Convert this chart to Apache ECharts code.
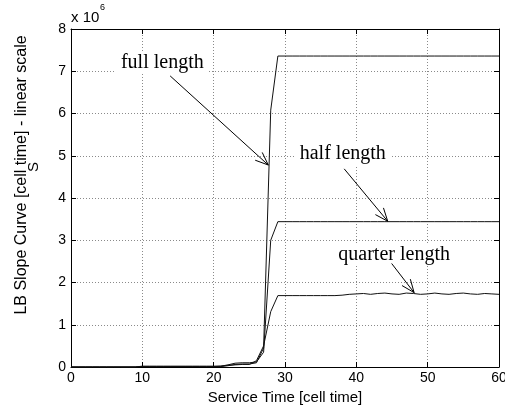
<!DOCTYPE html>
<html>
<head>
<meta charset="utf-8">
<script src="https://cdn.jsdelivr.net/npm/echarts@6/dist/echarts.min.js"></script>
<style>
  html, body { margin: 0; padding: 0; background: #fff; }
  #chart { width: 505px; height: 408px; }
</style>
</head>
<body>
<div id="chart"></div>
<script>
// Service time samples [cell time]
const serviceTime = [
  0, 1, 2, 3, 4, 5, 6, 7, 8, 9,
  10, 11, 12, 13, 14, 15, 16, 17, 18, 19,
  20, 21, 22, 23, 24, 25, 26, 27, 28, 29,
  30, 31, 32, 33, 34, 35, 36, 37, 38, 39,
  40, 41, 42, 43, 44, 45, 46, 47, 48, 49,
  50, 51, 52, 53, 54, 55, 56, 57, 58, 59,
  60
];

// LB slope curve S, in units of 1e6 cell time
const fullLength = [
  0, 0, 0, 0, 0, 0, 0, 0, 0, 0,
  0.01, 0.01, 0.01, 0.01, 0.01, 0.01, 0.01, 0.01, 0.01, 0.01,
  0.01, 0.01, 0.03, 0.06, 0.07, 0.07, 0.10, 0.45, 6.08, 7.36,
  7.36, 7.36, 7.36, 7.36, 7.36, 7.36, 7.36, 7.36, 7.36, 7.36,
  7.36, 7.36, 7.36, 7.36, 7.36, 7.36, 7.36, 7.36, 7.36, 7.36,
  7.36, 7.36, 7.36, 7.36, 7.36, 7.36, 7.36, 7.36, 7.36, 7.36,
  7.36
];

const halfLength = [
  0, 0, 0, 0, 0, 0, 0, 0, 0, 0,
  0.01, 0.01, 0.01, 0.01, 0.01, 0.01, 0.01, 0.01, 0.01, 0.01,
  0.01, 0.02, 0.05, 0.09, 0.10, 0.10, 0.12, 0.35, 3.00, 3.44,
  3.44, 3.44, 3.44, 3.44, 3.44, 3.44, 3.44, 3.44, 3.44, 3.44,
  3.44, 3.44, 3.44, 3.44, 3.44, 3.44, 3.44, 3.44, 3.44, 3.44,
  3.44, 3.44, 3.44, 3.44, 3.44, 3.44, 3.44, 3.44, 3.44, 3.44,
  3.44
];

const quarterLength = [
  0, 0, 0, 0, 0, 0, 0, 0, 0, 0,
  0.02, 0.02, 0.02, 0.02, 0.02, 0.02, 0.02, 0.02, 0.02, 0.02,
  0.02, 0.02, 0.04, 0.05, 0.06, 0.06, 0.15, 0.50, 1.31, 1.69,
  1.69, 1.69, 1.69, 1.69, 1.69, 1.69, 1.69, 1.69, 1.70, 1.72,
  1.73, 1.74, 1.72, 1.74, 1.75, 1.73, 1.72, 1.75, 1.74, 1.72,
  1.73, 1.75, 1.73, 1.72, 1.74, 1.75, 1.73, 1.72, 1.74, 1.73,
  1.72
];

const xTicks = [0, 10, 20, 30, 40, 50, 60];
const yTicks = [0, 1, 2, 3, 4, 5, 6, 7, 8];

// Curve captions and their pointer arrows, in data coordinates
const captionText = ['full length', 'half length', 'quarter length'];
const captionX = [12.8, 38.1, 45.3];
const captionY = [7.2, 5.04, 2.65];
// [fromX, fromY, toX, toY]
const pointerArrows = [
  [13.9, 6.89, 27.66, 4.78],
  [38.3, 4.69, 44.4, 3.45],
  [44.95, 2.45, 48.1, 1.76]
];

const pairs = (xs, ys) => xs.map((x, i) => [x, ys[i]]);

const lineColor = '#111';
const sansFont = '"Liberation Sans", Arial, sans-serif';
const serifFont = '"Liberation Serif", "Times New Roman", serif';

const chart = echarts.init(document.getElementById('chart'), null, { renderer: 'canvas' });

function curveSeries(name, values) {
  return {
    name: name,
    type: 'line',
    data: pairs(serviceTime, values),
    showSymbol: false,
    symbol: 'none',
    lineStyle: { color: lineColor, width: 1 },
    z: 3,
    animation: false
  };
}

const option = {
  animation: false,
  backgroundColor: '#fff',
  grid: { left: 71, right: 6, top: 29, bottom: 41, containLabel: false, outerBoundsMode: 'none' },
  xAxis: [
    {
      type: 'value', min: xTicks[0], max: xTicks[xTicks.length - 1], interval: 10,
      position: 'bottom',
      name: 'Service Time [cell time]',
      nameLocation: 'middle', nameGap: 19,
      nameTextStyle: { fontFamily: sansFont, fontSize: 15, color: '#000' },
      axisLine: { show: true, onZero: false, lineStyle: { color: '#000', width: 1 } },
      axisTick: { show: true, inside: true, length: 5, lineStyle: { color: '#000' } },
      axisLabel: { fontFamily: sansFont, fontSize: 14, color: '#000', margin: 4 },
      splitLine: { show: true, lineStyle: { color: '#8a8a8a', type: [1, 2], width: 1 } }
    },
    {
      type: 'value', min: xTicks[0], max: xTicks[xTicks.length - 1], interval: 10,
      position: 'top',
      axisLine: { show: true, onZero: false, lineStyle: { color: '#000', width: 1 } },
      axisTick: { show: true, inside: true, length: 5, lineStyle: { color: '#000' } },
      axisLabel: { show: false },
      splitLine: { show: false }
    }
  ],
  yAxis: [
    {
      type: 'value', min: yTicks[0], max: yTicks[yTicks.length - 1], interval: 1,
      position: 'left',
      axisLine: { show: true, onZero: false, lineStyle: { color: '#000', width: 1 } },
      axisTick: { show: true, inside: true, length: 5, lineStyle: { color: '#000' } },
      axisLabel: { fontFamily: sansFont, fontSize: 14, color: '#000', margin: 5 },
      splitLine: { show: true, lineStyle: { color: '#8a8a8a', type: [1, 2], width: 1 } }
    },
    {
      type: 'value', min: yTicks[0], max: yTicks[yTicks.length - 1], interval: 1,
      position: 'right',
      axisLine: { show: true, onZero: false, lineStyle: { color: '#000', width: 1 } },
      axisTick: { show: true, inside: true, length: 5, lineStyle: { color: '#000' } },
      axisLabel: { show: false },
      splitLine: { show: false }
    }
  ],
  graphic: [
    // axis multiplier
    {
      type: 'text', x: 71, y: 10,
      style: { text: 'x 10', fontSize: 15, fontFamily: sansFont, fill: '#000' }
    },
    {
      type: 'text', x: 100, y: 3,
      style: { text: '6', fontSize: 9, fontFamily: sansFont, fill: '#000' }
    },
    // vertical axis title, two lines
    {
      type: 'text', x: 22, y: 175, rotation: Math.PI / 2,
      style: {
        text: 'LB Slope Curve [cell time] - linear scale',
        fontSize: 16, fontFamily: sansFont, fill: '#000',
        align: 'center', verticalAlign: 'middle'
      }
    },
    {
      type: 'text', x: 34, y: 167, rotation: Math.PI / 2,
      style: {
        text: 'S',
        fontSize: 15, fontFamily: sansFont, fill: '#000',
        align: 'center', verticalAlign: 'middle'
      }
    }
  ],
  series: [
    curveSeries('full length', fullLength),
    curveSeries('half length', halfLength),
    curveSeries('quarter length', quarterLength),
    {
      name: 'captions',
      type: 'custom',
      coordinateSystem: 'cartesian2d',
      data: captionText.map((t, i) => [captionX[i], captionY[i], i]),
      encode: { x: 0, y: 1 },
      z: 5,
      silent: true,
      renderItem: function (params, api) {
        const p = api.coord([api.value(0), api.value(1)]);
        return {
          type: 'text',
          x: p[0], y: p[1],
          style: {
            text: captionText[api.value(2)],
            font: '20px ' + serifFont,
            fill: '#000',
            align: 'center',
            verticalAlign: 'middle',
            backgroundColor: '#fff',
            padding: [1, 5]
          }
        };
      }
    },
    {
      name: 'pointers',
      type: 'custom',
      coordinateSystem: 'cartesian2d',
      data: pointerArrows,
      encode: { x: [0, 2], y: [1, 3] },
      z: 6,
      silent: true,
      renderItem: function (params, api) {
        const a = api.coord([api.value(0), api.value(1)]);
        const b = api.coord([api.value(2), api.value(3)]);
        const ang = Math.atan2(b[1] - a[1], b[0] - a[0]);
        const headLen = 14;
        const spread = 22 * Math.PI / 180;
        const w1 = [b[0] - headLen * Math.cos(ang - spread), b[1] - headLen * Math.sin(ang - spread)];
        const w2 = [b[0] - headLen * Math.cos(ang + spread), b[1] - headLen * Math.sin(ang + spread)];
        const stroke = { stroke: '#000', lineWidth: 1, fill: null };
        return {
          type: 'group',
          children: [
            { type: 'line', shape: { x1: a[0], y1: a[1], x2: b[0], y2: b[1] }, style: stroke },
            { type: 'polyline', shape: { points: [w1, b, w2] }, style: stroke }
          ]
        };
      }
    }
  ]
};

chart.setOption(option);
</script>
</body>
</html>
